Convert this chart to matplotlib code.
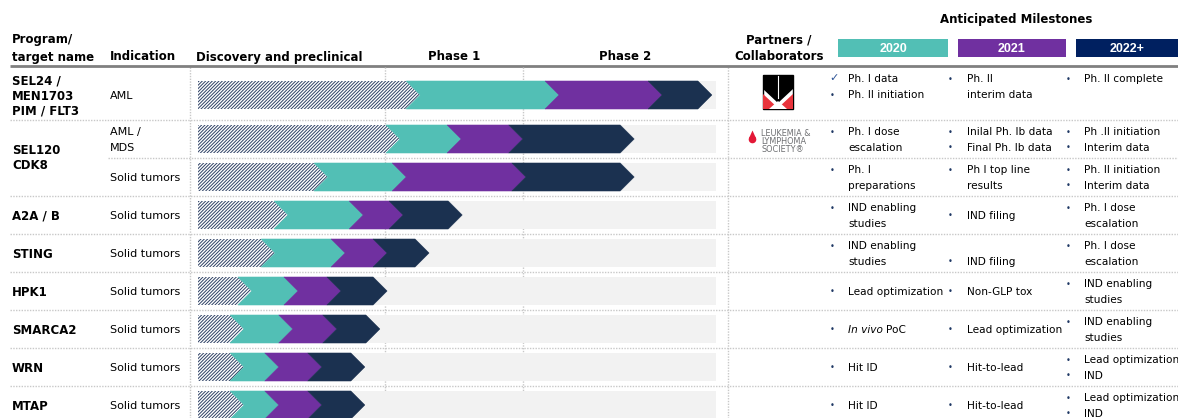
import matplotlib
matplotlib.use("Agg")
import matplotlib.pyplot as plt
from matplotlib.patches import Polygon, Rectangle, Circle

# ---------------- data ----------------
programs = ["SEL24 /\nMEN1703\nPIM / FLT3", "SEL120\nCDK8", "A2A / B", "STING",
            "HPK1", "SMARCA2", "WRN", "MTAP"]
program_rows = [1, 2, 1, 1, 1, 1, 1, 1]          # indication rows per program
indications = ["AML", "AML /\nMDS", "Solid tumors", "Solid tumors", "Solid tumors",
               "Solid tumors", "Solid tumors", "Solid tumors", "Solid tumors"]

# progress along the pipeline bar (% of full bar) where each stage ends
preclinical_end = [42.9, 39.0, 25.1, 17.4, 14.9, 10.4, 8.9, 8.9, 8.9]
end_2020 = [69.7, 50.8, 40.2, 31.9, 28.4, 19.3, 18.3, 15.6, 15.6]
end_2021 = [89.6, 62.7, 63.3, 39.6, 36.5, 27.6, 26.8, 23.9, 23.9]
end_2022 = [99.2, 84.2, 84.2, 51.0, 44.6, 36.5, 35.1, 32.2, 32.2]

phase_labels = ["Discovery and preclinical", "Phase 1", "Phase 2"]
phase_bounds = [36.1, 62.7]

years = ["2020", "2021", "2022+"]
partners = ["Menarini", "Leukemia & Lymphoma Society", "", "", "", "", "", "", ""]

milestones_2020 = [
    ["✓ Ph. I data", "• Ph. II initiation", ""],
    ["• Ph. I dose", "escalation"],
    ["• Ph. I", "preparations"],
    ["• IND enabling", "studies"],
    ["• IND enabling", "studies"],
    ["• Lead optimization"],
    ["• *In vivo* PoC"],
    ["• Hit ID"],
    ["• Hit ID"],
]
milestones_2021 = [
    ["• Ph. II", "interim data", ""],
    ["• Inilal Ph. Ib data", "• Final Ph. Ib data"],
    ["• Ph I top line", "results"],
    ["• IND filing"],
    ["", "• IND filing"],
    ["• Non-GLP tox"],
    ["• Lead optimization"],
    ["• Hit-to-lead"],
    ["• Hit-to-lead"],
]
milestones_2022 = [
    ["• Ph. II complete", "", ""],
    ["• Ph .II initiation", "• Interim data"],
    ["• Ph. II initiation", "• Interim data"],
    ["• Ph. I dose", "escalation"],
    ["• Ph. I dose", "escalation"],
    ["• IND enabling", "studies"],
    ["• IND enabling", "studies"],
    ["• Lead optimization", "• IND"],
    ["• Lead optimization", "• IND"],
]

# ---------------- style ----------------
TEAL, PURPLE, NAVY, BOXNAVY = "#52BFB5", "#7030A0", "#1B3150", "#002060"
GRAYBG = "#F2F2F2"
HATCHC = "#2E4165"
DOT = "#C8C8C8"
plt.rcParams["font.family"] = ["DejaVu Sans"]
plt.rcParams["hatch.linewidth"] = 0.7

W, H = 1178, 418
fig = plt.figure(figsize=(W / 100, H / 100), dpi=100)
ax = fig.add_axes([0, 0, 1, 1])
ax.set_xlim(0, W)
ax.set_ylim(H, 0)
ax.axis("off")

bx0, bx1 = 198, 716
bax = fig.add_axes([bx0 / W, 0, (bx1 - bx0) / W, 1])
bax.set_xlim(0, 100)
bax.set_ylim(H, 0)
bax.axis("off")
bax.patch.set_alpha(0)

# layout
row_bounds = [66, 120, 158, 196, 234, 272, 310, 348, 386, 424]
centers = [95, 139, 177, 215, 253, 291, 329, 367, 405]
LS = 15.5
BAR_H = 28
DEPTH = 14 * 100 / (bx1 - bx0)
FS = 8
FSM = 7.6
FSB = 8.5

# header
ax.plot([10, W], [66, 66], color="#808080", lw=2, solid_capstyle="butt", zorder=3)
ax.text(12, 40, "Program/", fontsize=FSB, fontweight="bold", va="center")
ax.text(12, 57, "target name", fontsize=FSB, fontweight="bold", va="center")
ax.text(110, 57, "Indication", fontsize=FSB, fontweight="bold", va="center")
ax.text(196, 57, phase_labels[0], fontsize=FSB, fontweight="bold", va="center")
bax.text((phase_bounds[0] + phase_bounds[1]) / 2, 57, phase_labels[1], fontsize=FSB,
         fontweight="bold", va="center", ha="center")
bax.text((phase_bounds[1] + 102.3) / 2, 57, phase_labels[2], fontsize=FSB,
         fontweight="bold", va="center", ha="center")
ax.text(779, 40, "Partners /", fontsize=FSB, fontweight="bold", va="center", ha="center")
ax.text(779, 57, "Collaborators", fontsize=FSB, fontweight="bold", va="center", ha="center")
ax.text(1016, 19, "Anticipated Milestones", fontsize=FSB, fontweight="bold",
        va="center", ha="center")
box_x = [(838, 948), (958, 1066), (1076, 1178)]
for (x0, x1), lab, col in zip(box_x, years, [TEAL, PURPLE, BOXNAVY]):
    ax.add_patch(Rectangle((x0, 39), x1 - x0, 18, facecolor=col, edgecolor="none"))
    ax.text((x0 + x1) / 2, 48.5, lab, color="white", fontsize=9, fontweight="bold",
            family="Liberation Sans", ha="center", va="center")

# grid lines
dot = dict(color=DOT, lw=1, linestyle=(0, (1, 1)), zorder=0)
for x in [190, 728]:
    ax.plot([x, x], [67, H], **dot)
for xb in phase_bounds:
    bax.plot([xb, xb], [67, H], **dot)
for i, yb in enumerate(row_bounds[1:-1]):
    ax.plot([108 if i == 1 else 10, W], [yb, yb], **dot)

# pipeline bars
def chevron(a, start, tip, yc, first, **kw):
    top, bot = yc - BAR_H / 2, yc + BAR_H / 2
    d = DEPTH
    if first:
        pts = [(start, top), (tip - d, top), (tip, yc), (tip - d, bot), (start, bot)]
    else:
        pts = [(start - d, top), (tip - d, top), (tip, yc), (tip - d, bot),
               (start - d, bot), (start, yc)]
    a.add_patch(Polygon(pts, closed=True, **kw))

for r, yc in enumerate(centers):
    bax.add_patch(Rectangle((0, yc - BAR_H / 2), 100, BAR_H, facecolor=GRAYBG,
                            edgecolor="none", zorder=1))
    chevron(bax, 0, preclinical_end[r], yc, True, facecolor="white", edgecolor=HATCHC,
            hatch="//////////", lw=0, zorder=2)
    segs = [(preclinical_end[r], end_2020[r], TEAL),
            (end_2020[r], end_2021[r], PURPLE),
            (end_2021[r], end_2022[r], NAVY)]
    for s, e, c in segs:
        chevron(bax, s, e, yc, False, facecolor=c, edgecolor=c, lw=0.4, zorder=3)

# program & indication labels
r = 0
for prog, n in zip(programs, program_rows):
    yc = (centers[r] + centers[r + n - 1]) / 2 + (1 if n == 1 else 0)
    lines = prog.split("\n")
    for i, ln in enumerate(lines):
        ax.text(12, yc + (i - (len(lines) - 1) / 2) * LS, ln, fontsize=FSB,
                fontweight="bold", va="center")
    r += n
for r, ind in enumerate(indications):
    lines = ind.split("\n")
    for i, ln in enumerate(lines):
        ax.text(110, centers[r] + 1 + (i - (len(lines) - 1) / 2) * 16, ln,
                fontsize=FS, va="center")

# partner logos
# Menarini-like logo
lx0, lx1, ly0, ly1 = 763, 793, 75, 109
ax.add_patch(Rectangle((lx0, ly0), lx1 - lx0, ly1 - ly0, facecolor="white",
                       edgecolor="black", lw=1, zorder=3))
ax.add_patch(Polygon([(lx0, ly0), (lx1, ly0), (lx1, 89), (778, 103), (lx0, 89)],
                     facecolor="black", edgecolor="none", zorder=4))
ax.plot([778, 778], [ly0 + 1, 98], color="white", lw=0.8, zorder=5)
ax.add_patch(Polygon([(lx0, 94), (778, 108), (lx1, 94), (lx1, ly1), (lx0, ly1)],
                     facecolor="#E8343C", edgecolor="none", zorder=4))
ax.add_patch(Polygon([(769, ly1), (778, 101), (787, ly1)], facecolor="white",
                     edgecolor="none", zorder=5))
# LLS logo
ax.add_patch(Circle((752.5, 139.5), 3.8, facecolor="#E31837", edgecolor="none", zorder=4))
ax.add_patch(Polygon([(749.0, 138.2), (752.5, 130.5), (756.0, 138.2)],
                     facecolor="#E31837", edgecolor="none", zorder=4))
for i, ln in enumerate(["LEUKEMIA &", "LYMPHOMA", "SOCIETY\u00ae"]):
    ax.text(761, 133 + i * 8.5, ln, fontsize=5.9, color="#6D6E71", va="center")

# milestones
col_x = [(832, 848), (950, 967), (1068, 1084)]
BUL = "#1F3864"
for c, cells in enumerate([milestones_2020, milestones_2021, milestones_2022]):
    bxp, tx = col_x[c]
    for r, lines in enumerate(cells):
        yc = centers[r] + (0 if r == 0 else 1)
        n = len(lines)
        for i, ln in enumerate(lines):
            if not ln:
                continue
            y = yc + (i - (n - 1) / 2) * LS
            if ln.startswith("• "):
                ax.text(bxp, y, "•", fontsize=6, color=BUL, va="center", ha="center")
                ln = ln[2:]
            elif ln.startswith("✓ "):
                ax.text(bxp + 2, y - 1, "✓", fontsize=8, color="#2F5597", va="center",
                        ha="center")
                ln = ln[2:]
            if ln.startswith("*"):
                it, rest = ln[1:].split("*", 1)
                t = ax.text(tx, y, it, fontsize=FSM, style="italic", va="center")
                ax.annotate(rest.strip(), xy=(1, 0.5), xycoords=t, xytext=(2.5, 0),
                            textcoords="offset points", fontsize=FSM, va="center")
            else:
                ax.text(tx, y, ln, fontsize=FSM, va="center")

fig.savefig("out.png", dpi=100)
